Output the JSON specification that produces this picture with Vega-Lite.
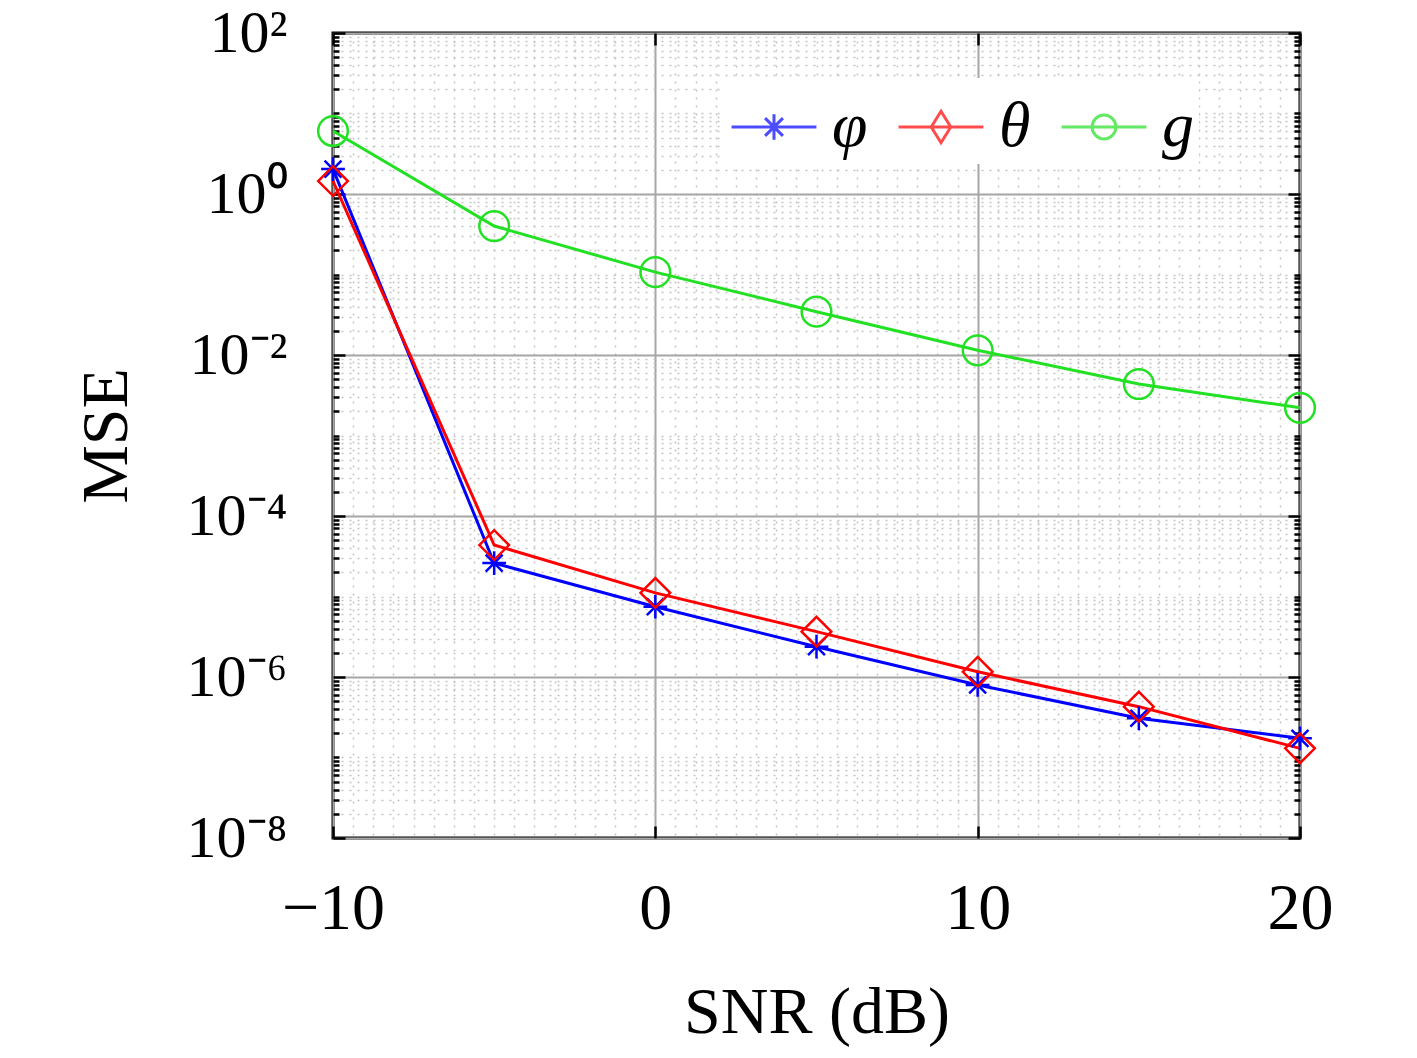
{
  "$schema": "https://vega.github.io/schema/vega-lite/v6.json",
  "description": "MSE versus SNR for phi, theta and g",
  "width": 967,
  "height": 805,
  "autosize": "none",
  "padding": {"left": 333, "top": 33, "right": 117, "bottom": 220},
  "background": "#ffffff",
  "config": {
    "font": "Liberation Serif",
    "view": {"stroke": "#000000", "strokeWidth": 3, "fill": "#ffffff"},
    "axis": {"labelFont": "Liberation Serif", "titleFont": "Liberation Serif", "labelColor": "#000000", "titleColor": "#000000", "titleFontWeight": "normal", "tickColor": "#000000", "domain": false}
  },
  "data": {
    "values": [
      {"snr": -10, "series": "φ", "mse": 2.04},
      {"snr": -5, "series": "φ", "mse": 2.6e-5},
      {"snr": 0, "series": "φ", "mse": 7.46e-6},
      {"snr": 5, "series": "φ", "mse": 2.38e-6},
      {"snr": 10, "series": "φ", "mse": 7.96e-7},
      {"snr": 15, "series": "φ", "mse": 3.07e-7},
      {"snr": 20, "series": "φ", "mse": 1.73e-7},
      {"snr": -10, "series": "θ", "mse": 1.45},
      {"snr": -5, "series": "θ", "mse": 4.36e-5},
      {"snr": 0, "series": "θ", "mse": 1.11e-5},
      {"snr": 5, "series": "θ", "mse": 3.66e-6},
      {"snr": 10, "series": "θ", "mse": 1.16e-6},
      {"snr": 15, "series": "θ", "mse": 4.28e-7},
      {"snr": 20, "series": "θ", "mse": 1.30e-7},
      {"snr": -10, "series": "g", "mse": 6.06},
      {"snr": -5, "series": "g", "mse": 0.40},
      {"snr": 0, "series": "g", "mse": 0.107},
      {"snr": 5, "series": "g", "mse": 0.0345},
      {"snr": 10, "series": "g", "mse": 0.01143},
      {"snr": 15, "series": "g", "mse": 0.00436},
      {"snr": 20, "series": "g", "mse": 0.00221}
    ]
  },
  "layer": [
    {
      "mark": {"type": "line", "strokeWidth": 3, "clip": false},
      "encoding": {
        "x": {
          "field": "snr", "type": "quantitative",
          "scale": {"domain": [-10, 20], "nice": false, "zero": false},
          "axis": {
            "title": "SNR (dB)", "titleFontSize": 66, "titlePadding": 27,
            "values": [-10, -9.375, -8.75, -8.125, -7.5, -6.875, -6.25, -5.625, -5, -4.375, -3.75, -3.125, -2.5, -1.875, -1.25, -0.625, 0, 0.625, 1.25, 1.875, 2.5, 3.125, 3.75, 4.375, 5, 5.625, 6.25, 6.875, 7.5, 8.125, 8.75, 9.375, 10, 10.625, 11.25, 11.875, 12.5, 13.125, 13.75, 14.375, 15, 15.625, 16.25, 16.875, 17.5, 18.125, 18.75, 19.375, 20],
            "labelExpr": "datum.value % 10 === 0 ? (datum.value < 0 ? '−' + abs(datum.value) : '' + datum.value) : ''",
            "labelFontSize": 66, "labelPadding": 50, "labelOverlap": false, "labelFlush": false, "labelBound": false,
            "grid": true,
            "gridColor": {"condition": {"test": "datum.value % 10 === 0", "value": "#a6a6a6"}, "value": "#c4c4c4"},
            "gridWidth": {"condition": {"test": "datum.value % 10 === 0", "value": 2}, "value": 1.5},
            "gridDash": {"condition": {"test": "datum.value % 10 === 0", "value": []}, "value": [2, 6]},
            "tickSize": {"condition": {"test": "datum.value % 10 === 0", "value": -12}, "value": 0},
            "tickWidth": 2.5
          }
        },
        "y": {
          "field": "mse", "type": "quantitative",
          "scale": {"type": "log", "domain": [1e-8, 100], "nice": false},
          "axis": {
            "title": "MSE", "titleFontSize": 66, "titlePadding": 46,
            "values": [1e-8, 2e-8, 3e-8, 4e-8, 5e-8, 6e-8, 7e-8, 8e-8, 9e-8, 1e-7, 2e-7, 3e-7, 4e-7, 5e-7, 6e-7, 7e-7, 8e-7, 9e-7, 1e-6, 2e-6, 3e-6, 4e-6, 5e-6, 6e-6, 7e-6, 8e-6, 9e-6, 1e-5, 2e-5, 3e-5, 4e-5, 5e-5, 6e-5, 7e-5, 8e-5, 9e-5, 1e-4, 2e-4, 3e-4, 4e-4, 5e-4, 6e-4, 7e-4, 8e-4, 9e-4, 1e-3, 2e-3, 3e-3, 4e-3, 5e-3, 6e-3, 7e-3, 8e-3, 9e-3, 0.01, 0.02, 0.03, 0.04, 0.05, 0.06, 0.07, 0.08, 0.09, 0.1, 0.2, 0.3, 0.4, 0.5, 0.6, 0.7, 0.8, 0.9, 1, 2, 3, 4, 5, 6, 7, 8, 9, 10, 20, 30, 40, 50, 60, 70, 80, 90, 100],
            "labelExpr": "datum.value == 100 ? '10²' : datum.value == 1 ? '10⁰' : datum.value == 0.01 ? '10⁻²' : datum.value == 0.0001 ? '10⁻⁴' : datum.value == 0.000001 ? '10⁻⁶' : datum.value == 0.00000001 ? '10⁻⁸' : ''",
            "labelFontSize": 60, "labelPadding": 58, "labelOverlap": false, "labelBound": false, "labelBaseline": "middle",
            "grid": true,
            "gridColor": {"condition": {"test": "datum.value == 100 || datum.value == 1 || datum.value == 0.01 || datum.value == 0.0001 || datum.value == 0.000001 || datum.value == 0.00000001", "value": "#a6a6a6"}, "value": "#c4c4c4"},
            "gridWidth": {"condition": {"test": "datum.value == 100 || datum.value == 1 || datum.value == 0.01 || datum.value == 0.0001 || datum.value == 0.000001 || datum.value == 0.00000001", "value": 2}, "value": 1.5},
            "gridDash": {"condition": {"test": "datum.value == 100 || datum.value == 1 || datum.value == 0.01 || datum.value == 0.0001 || datum.value == 0.000001 || datum.value == 0.00000001", "value": []}, "value": [2, 6]},
            "tickSize": {"condition": {"test": "datum.value == 100 || datum.value == 1 || datum.value == 0.01 || datum.value == 0.0001 || datum.value == 0.000001 || datum.value == 0.00000001", "value": -12}, "value": -6},
            "tickWidth": 2.5
          }
        },
        "color": {
          "field": "series", "type": "nominal", "legend": null,
          "scale": {"domain": ["φ", "θ", "g"], "range": ["#0000ff", "#ff0000", "#22e022"]}
        },
        "detail": {"field": "series"}
      }
    },
    {
      "mark": {"type": "point", "filled": false, "strokeWidth": 2.5, "size": 880, "opacity": 1, "clip": false},
      "encoding": {
        "x": {"field": "snr", "type": "quantitative", "axis": null},
        "y": {"field": "mse", "type": "quantitative", "axis": null},
        "color": {
          "field": "series", "type": "nominal", "legend": null,
          "scale": {"domain": ["φ", "θ", "g"], "range": ["#0000ff", "#ff0000", "#22e022"]}
        },
        "shape": {
          "field": "series", "type": "nominal", "legend": null,
          "scale": {"domain": ["φ", "θ", "g"], "range": ["M-0.8,0L0.8,0M0,-0.8L0,0.8M-0.57,-0.57L0.57,0.57M-0.57,0.57L0.57,-0.57", "diamond", "circle"]}
        }
      }
    },
    {
      "mark": {"type": "point", "opacity": 0},
      "encoding": {
        "x": {
          "field": "snr", "type": "quantitative",
          "axis": {"orient": "top", "title": null, "labels": false, "grid": false, "values": [-10, 0, 10, 20], "tickSize": -12, "tickWidth": 2.5}
        },
        "y": {
          "field": "mse", "type": "quantitative",
          "axis": {
            "orient": "right", "title": null, "labels": false, "grid": false,
            "values": [1e-8, 2e-8, 3e-8, 4e-8, 5e-8, 6e-8, 7e-8, 8e-8, 9e-8, 1e-7, 2e-7, 3e-7, 4e-7, 5e-7, 6e-7, 7e-7, 8e-7, 9e-7, 1e-6, 2e-6, 3e-6, 4e-6, 5e-6, 6e-6, 7e-6, 8e-6, 9e-6, 1e-5, 2e-5, 3e-5, 4e-5, 5e-5, 6e-5, 7e-5, 8e-5, 9e-5, 1e-4, 2e-4, 3e-4, 4e-4, 5e-4, 6e-4, 7e-4, 8e-4, 9e-4, 1e-3, 2e-3, 3e-3, 4e-3, 5e-3, 6e-3, 7e-3, 8e-3, 9e-3, 0.01, 0.02, 0.03, 0.04, 0.05, 0.06, 0.07, 0.08, 0.09, 0.1, 0.2, 0.3, 0.4, 0.5, 0.6, 0.7, 0.8, 0.9, 1, 2, 3, 4, 5, 6, 7, 8, 9, 10, 20, 30, 40, 50, 60, 70, 80, 90, 100],
            "tickSize": {"condition": {"test": "datum.value == 100 || datum.value == 1 || datum.value == 0.01 || datum.value == 0.0001 || datum.value == 0.000001 || datum.value == 0.00000001", "value": -12}, "value": -6},
            "tickWidth": 2.5
          }
        }
      }
    },
    {
      "transform": [{"filter": "false"}],
      "mark": {"type": "point", "filled": false, "strokeWidth": 3},
      "encoding": {
        "color": {
          "field": "series", "type": "nominal",
          "scale": {"domain": ["φ", "θ", "g"], "range": ["#0000ff", "#ff0000", "#22e022"]},
          "legend": {
            "title": null, "orient": "none", "legendX": 392, "legendY": 45, "direction": "horizontal",
            "fillColor": "#ffffff", "padding": 5, "symbolSize": 7200, "symbolStrokeWidth": 3,
            "labelFont": "Liberation Serif", "labelFontSize": 64, "labelFontStyle": "italic", "labelColor": "#000000",
            "labelOffset": 14, "columnPadding": 24, "labelLimit": 200
          }
        },
        "shape": {
          "field": "series", "type": "nominal",
          "scale": {"domain": ["φ", "θ", "g"], "range": [
            "M-1,0L1,0M0,-0.3L0,0.3M-0.21,-0.21L0.21,0.21M-0.21,0.21L0.21,-0.21",
            "M-1,0L1,0M0,-0.37L0.23,0L0,0.37L-0.23,0Z",
            "M-1,0L1,0M0.28,0A0.28,0.28,0,1,1,-0.28,0A0.28,0.28,0,1,1,0.28,0"
          ]},
          "legend": {
            "title": null, "orient": "none", "legendX": 392, "legendY": 45, "direction": "horizontal",
            "fillColor": "#ffffff", "padding": 5, "symbolSize": 7200, "symbolStrokeWidth": 3,
            "labelFont": "Liberation Serif", "labelFontSize": 64, "labelFontStyle": "italic", "labelColor": "#000000",
            "labelOffset": 14, "columnPadding": 24, "labelLimit": 200
          }
        }
      }
    }
  ],
  "resolve": {
    "scale": {"color": "independent", "shape": "independent"},
    "axis": {"x": "independent", "y": "independent"}
  }
}
